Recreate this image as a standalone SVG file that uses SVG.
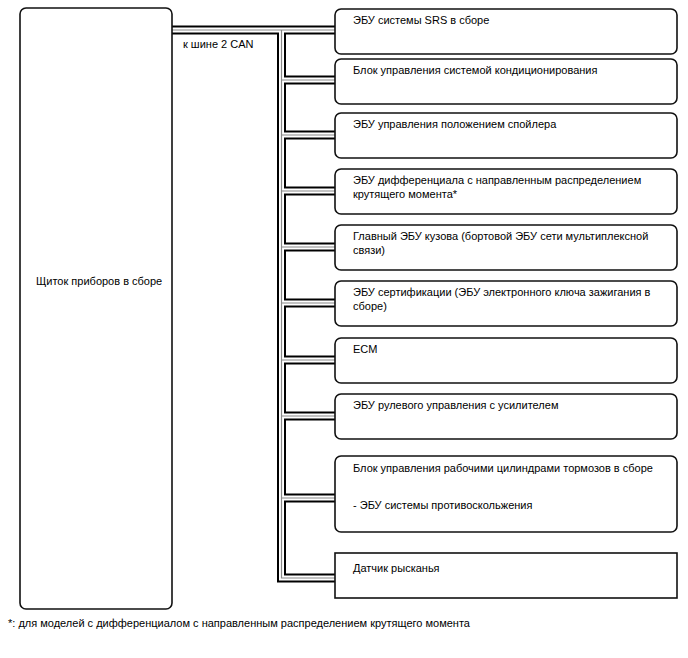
<svg xmlns="http://www.w3.org/2000/svg" xmlns:xlink="http://www.w3.org/1999/xlink" width="688" height="658" viewBox="0 0 688 658">
<style>
.box{fill:#fff;stroke:#111;stroke-width:1.6}
.t{font-family:"Liberation Sans",Arial,sans-serif;font-size:11px;fill:#000}
.w0{fill:none;stroke:#000;stroke-width:9}
.w1{fill:none;stroke:#fff;stroke-width:5}
.w2{fill:none;stroke:#888;stroke-width:1.2}
</style>
<defs>
<path id="bus" d="M172,30 H335 M281.5,30 V578 H335 M281.5,80 H335 M281.5,135 H335 M281.5,191 H335 M281.5,247 H335 M281.5,303 H335 M281.5,360 H335 M281.5,416 H335 M281.5,498 H335"/>
</defs>
<g id="connectors">
<use xlink:href="#bus" class="w0"/>
<use xlink:href="#bus" class="w1"/>
<use xlink:href="#bus" class="w2"/>
<text class="t" x="183" y="48">к шине 2 CAN</text>
</g>
<g id="meter">
<rect class="box" x="20" y="8" width="152" height="601" rx="6"/>
<text class="t" x="36" y="285">Щиток приборов в сборе</text>
</g>
<g id="srs">
<rect class="box" x="335" y="9" width="342" height="45" rx="6"/>
<text class="t" x="353" y="24">ЭБУ системы SRS в сборе</text>
</g>
<g id="ac">
<rect class="box" x="335" y="59" width="342" height="45" rx="6"/>
<text class="t" x="353" y="74">Блок управления системой кондиционирования</text>
</g>
<g id="spoiler">
<rect class="box" x="335" y="113" width="342" height="45" rx="6"/>
<text class="t" x="353" y="128">ЭБУ управления положением спойлера</text>
</g>
<g id="diff">
<rect class="box" x="335" y="169" width="342" height="45" rx="6"/>
<text class="t" x="353" y="184">ЭБУ дифференциала с направленным распределением</text>
<text class="t" x="353" y="198">крутящего момента*</text>
</g>
<g id="body">
<rect class="box" x="335" y="225" width="342" height="45" rx="6"/>
<text class="t" x="353" y="240">Главный ЭБУ кузова (бортовой ЭБУ сети мультиплексной</text>
<text class="t" x="353" y="254">связи)</text>
</g>
<g id="cert">
<rect class="box" x="335" y="281" width="342" height="45" rx="6"/>
<text class="t" x="353" y="296">ЭБУ сертификации (ЭБУ электронного ключа зажигания в</text>
<text class="t" x="353" y="310">сборе)</text>
</g>
<g id="ecm">
<rect class="box" x="335" y="338" width="342" height="45" rx="6"/>
<text class="t" x="353" y="353">ECM</text>
</g>
<g id="eps">
<rect class="box" x="335" y="394" width="342" height="45" rx="6"/>
<text class="t" x="353" y="409">ЭБУ рулевого управления с усилителем</text>
</g>
<g id="brake">
<rect class="box" x="335" y="456" width="342" height="76" rx="6"/>
<text class="t" x="353" y="472">Блок управления рабочими цилиндрами тормозов в сборе</text>
<text class="t" x="353" y="509">- ЭБУ системы противоскольжения</text>
</g>
<g id="yaw">
<rect class="box" x="335" y="553" width="342" height="45"/>
<text class="t" x="353" y="572">Датчик рысканья</text>
</g>
<text class="t" x="8" y="627">*: для моделей с дифференциалом с направленным распределением крутящего момента</text>
</svg>
